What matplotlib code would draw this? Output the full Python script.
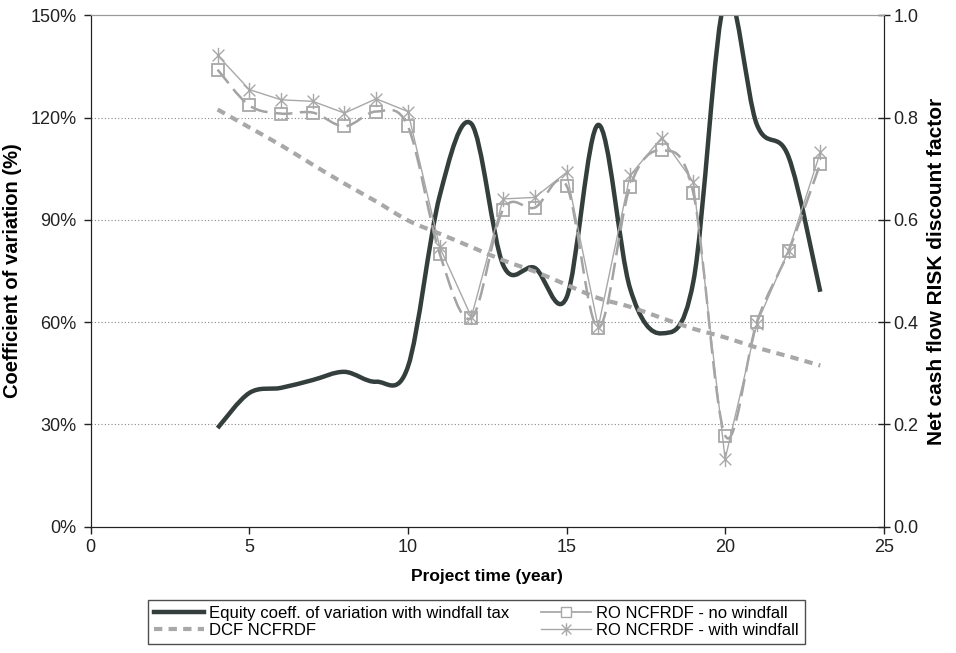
import matplotlib
matplotlib.use('Agg')
import matplotlib.pyplot as plt
from matplotlib.path import Path
from matplotlib.patches import PathPatch
from matplotlib.lines import Line2D
from matplotlib.ticker import FuncFormatter

plt.rcParams['font.family'] = ['Liberation Sans', 'DejaVu Sans']

# Data
years = [4, 5, 6, 7, 8, 9, 10, 11, 12, 13, 14, 15, 16, 17, 18, 19, 20, 21, 22, 23]
equity_cv = [28.9, 39.2, 40.7, 43.0, 45.4, 42.5, 46.9, 97.0, 118.2, 76.8,
             75.9, 67.2, 117.9, 70.0, 56.7, 72.0, 155.0, 118.0, 108.5, 68.9]
dcf_ncfrdf = [0.816, 0.781, 0.746, 0.708, 0.671, 0.636, 0.599, 0.573, 0.547, 0.521,
              0.499, 0.473, 0.447, 0.430, 0.408, 0.387, 0.370, 0.350, 0.333, 0.315]
ro_no_windfall = [0.894, 0.824, 0.808, 0.810, 0.783, 0.812, 0.783, 0.534, 0.408, 0.620,
                  0.624, 0.667, 0.389, 0.665, 0.736, 0.652, 0.178, 0.400, 0.539, 0.710]
ro_with_windfall = [0.922, 0.855, 0.835, 0.832, 0.809, 0.837, 0.812, 0.547, 0.410, 0.641,
                    0.644, 0.693, 0.390, 0.687, 0.761, 0.674, 0.132, 0.397, 0.540, 0.732]

labels = ['Equity coeff. of variation with windfall tax', 'DCF NCFRDF',
          'RO NCFRDF - no windfall', 'RO NCFRDF - with windfall']

dark = '#343e3d'
grey = '#a8a8a8'


def smooth_line(ax, x, y, **kw):
    # Excel-style smoothed line drawn as cubic bezier segments through the data points
    n = len(x)
    verts = [(x[0], y[0])]
    codes = [Path.MOVETO]
    for i in range(n - 1):
        xp, yp = (x[i - 1], y[i - 1]) if i > 0 else (x[i], y[i])
        xn, yn = (x[i + 2], y[i + 2]) if i < n - 2 else (x[i + 1], y[i + 1])
        c1 = (x[i] + (x[i + 1] - xp) / 6, y[i] + (y[i + 1] - yp) / 6)
        c2 = (x[i + 1] - (xn - x[i]) / 6, y[i + 1] - (yn - y[i]) / 6)
        verts += [c1, c2, (x[i + 1], y[i + 1])]
        codes += [Path.CURVE4] * 3
    patch = PathPatch(Path(verts, codes), fill=False, **kw)
    ax.add_patch(patch)
    return patch


# asterisk marker: an X with a vertical bar
star = Path([(-1, -1), (1, 1), (-1, 1), (1, -1), (0, -1.3), (0, 1.3)],
            [Path.MOVETO, Path.LINETO, Path.MOVETO, Path.LINETO, Path.MOVETO, Path.LINETO])

fig = plt.figure(figsize=(9.56, 6.53), dpi=100)
ax = fig.add_axes([0.0949, 0.1937, 0.8295, 0.7826])
ax2 = ax.twinx()

for y in [30, 60, 90, 120]:
    ax.axhline(y, color='#888888', lw=0.8, ls=(0, (1, 2)), zorder=0)

smooth_line(ax, years, equity_cv, edgecolor=dark, lw=3.2, capstyle='butt', joinstyle='round')

smooth_line(ax2, years, dcf_ncfrdf, edgecolor=grey, lw=3.0, linestyle=(0, (2.0, 1.5)), capstyle='butt')
smooth_line(ax2, years, ro_no_windfall, edgecolor='#a3a3a3', lw=1.8, linestyle=(0, (7, 3)), capstyle='butt')
ax2.plot(years, ro_no_windfall, ls='none', marker='s', ms=9, mfc='none', mec=grey, mew=1.3)
ax2.plot(years, ro_with_windfall, color=grey, lw=1.0, marker=star, ms=11, mec=grey, mew=1.0)

ax.set_xlim(0, 25)
ax.set_ylim(0, 150)
ax2.set_ylim(0, 1.0)
ax.set_xticks([0, 5, 10, 15, 20, 25])
ax.set_yticks([0, 30, 60, 90, 120, 150])
ax.yaxis.set_major_formatter(FuncFormatter(lambda v, p: f'{v:.0f}%'))
ax2.set_yticks([0, 0.2, 0.4, 0.6, 0.8, 1.0])
ax2.yaxis.set_major_formatter(FuncFormatter(lambda v, p: f'{v:.1f}'))

for a in (ax, ax2):
    a.spines['top'].set_color('#999999')
    a.spines['left'].set_color('#222222')
    a.spines['right'].set_color('#222222')
    a.spines['bottom'].set_color('#222222')
ax.tick_params(axis='both', labelsize=13, colors='#222222', length=5, width=1, pad=4)
ax.tick_params(axis='y', pad=5)
ax2.tick_params(axis='y', labelsize=13, colors='#222222', length=8, width=1, direction='inout', pad=3)

ax.set_xlabel('Project time (year)', fontsize=12.5, fontweight='bold', labelpad=9)
ax.set_ylabel('Coefficient of variation (%)', fontsize=14.5, fontweight='bold', labelpad=6)
ax2.set_ylabel('Net cash flow RISK discount factor', fontsize=15, fontweight='bold', labelpad=6)

handles = [
    Line2D([], [], color=dark, lw=3.2),
    Line2D([], [], color=grey, lw=3.0, ls=(0, (2.0, 1.5))),
    Line2D([], [], color=grey, lw=1.3, marker='s', ms=7, mfc='white', mec=grey),
    Line2D([], [], color=grey, lw=1.0, marker=star, ms=9, mec=grey),
]
leg = fig.legend(handles, labels, ncol=2, loc='center', mode='expand',
                 bbox_to_anchor=(0.155, 0.011, 0.687, 0.073), fontsize=12,
                 frameon=True, fancybox=False, handlelength=3.0, handletextpad=0.3,
                 labelspacing=0.15, borderpad=0.35, columnspacing=1.0, borderaxespad=0)
leg.get_frame().set_edgecolor('#222222')
leg.get_frame().set_linewidth(1.0)

fig.savefig('out.png', dpi=100)
